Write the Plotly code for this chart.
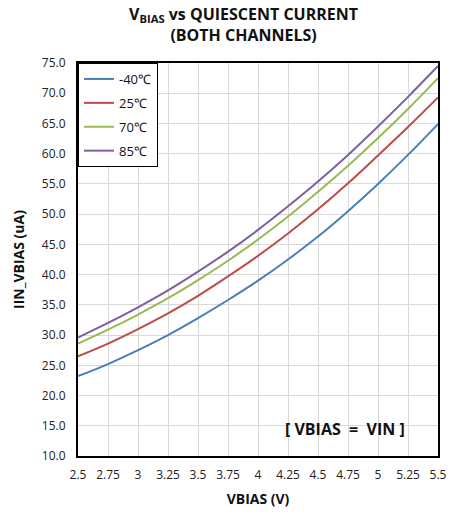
import plotly.graph_objects as go

vbias = [2.5, 2.75, 3.0, 3.25, 3.5, 3.75, 4.0, 4.25, 4.5, 4.75, 5.0, 5.25, 5.5]
i_m40 = [23.2, 25.2, 27.5, 30.0, 32.8, 35.8, 39.0, 42.5, 46.3, 50.5, 55.0, 59.8, 64.9]
i_25 = [26.5, 28.6, 31.0, 33.6, 36.5, 39.7, 43.1, 46.8, 50.8, 55.1, 59.7, 64.4, 69.3]
i_70 = [28.6, 30.9, 33.4, 36.1, 39.1, 42.3, 45.8, 49.6, 53.7, 58.0, 62.6, 67.4, 72.5]
i_85 = [29.6, 32.0, 34.6, 37.4, 40.5, 43.8, 47.4, 51.3, 55.4, 59.8, 64.5, 69.4, 74.5]
names = ["-40℃", "25℃", "70℃", "85℃"]
colors = ["#4a7ebb", "#be4b48", "#98b954", "#7d60a0"]
xticks = [2.5, 2.75, 3, 3.25, 3.5, 3.75, 4, 4.25, 4.5, 4.75, 5, 5.25, 5.5]
xticktext = ["2.5", "2.75", "3", "3.25", "3.5", "3.75", "4", "4.25", "4.5", "4.75", "5", "5.25", "5.5"]

FONT = "Open Sans"
fig = go.Figure()
for n, c, ys in zip(names, colors, [i_m40, i_25, i_70, i_85]):
    fig.add_trace(go.Scatter(x=vbias, y=ys, mode="lines", name=n, legendgroup=n,
                             line=dict(color=c, width=2, shape="spline")))

fig.update_layout(
    width=451, height=512,
    margin=dict(l=78, r=13, t=63, b=56),
    paper_bgcolor="white", plot_bgcolor="white",
    font=dict(family=FONT, size=12, color="#222"),
    title=dict(text="<b>V<sub>BIAS</sub> vs QUIESCENT CURRENT<br>(BOTH CHANNELS)</b>",
               x=0.54, xanchor="center", y=0.961, yanchor="middle",
               font=dict(family=FONT, size=16, color="#111")),
    showlegend=True,
    legend=dict(x=0, y=1, xanchor="left", yanchor="top",
                bgcolor="white", bordercolor="black", borderwidth=1,
                font=dict(family=FONT, size=13, color="#111"),
                tracegroupgap=4, itemwidth=30),
    xaxis=dict(range=[2.5, 5.5], tickvals=xticks, ticktext=xticktext,
               showgrid=True, gridcolor="#d9d9d9", gridwidth=1,
               showline=True, linecolor="black", linewidth=2, mirror=True,
               ticks="", zeroline=False, ticklabelstandoff=7, automargin=False,
               title=dict(text="<b>VBIAS (V)</b>", font=dict(family=FONT, size=14, color="#111"), standoff=12),
               tickfont=dict(family=FONT, size=12, color="#222")),
    yaxis=dict(range=[10, 75], dtick=5, tickformat=".1f",
               showgrid=True, gridcolor="#d9d9d9", gridwidth=1,
               showline=True, linecolor="black", linewidth=2, mirror=True,
               ticks="", zeroline=False, ticklabelstandoff=8, automargin=False,
               title=dict(text="<b>IIN_VBIAS (uA)</b>", font=dict(family=FONT, size=14, color="#111"), standoff=14),
               tickfont=dict(family=FONT, size=12, color="#222")),
    annotations=[dict(text="<b>[ VBIAS  =  VIN ]</b>", x=0.742, y=0.069, xref="paper", yref="paper",
                      xanchor="center", yanchor="middle", showarrow=False,
                      font=dict(family=FONT, size=16, color="#111"))],
)
fig.write_html("out.html")
